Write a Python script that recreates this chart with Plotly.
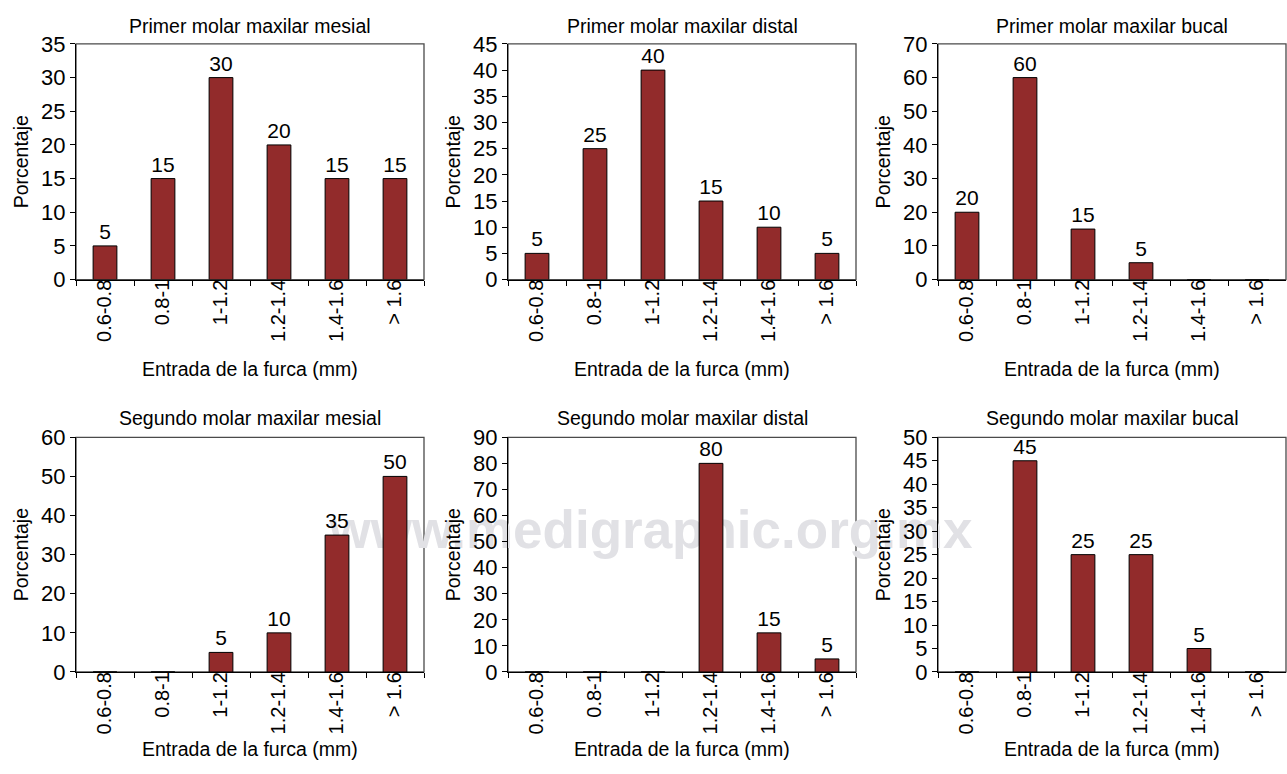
import plotly.graph_objects as go

# Furcation entrance width classes (mm)
categories = ["0.6-0.8", "0.8-1", "1-1.2", "1.2-1.4", "1.4-1.6", "> 1.6"]

# Percentage of teeth per class, one list per panel
primer_mesial = [5, 15, 30, 20, 15, 15]
primer_distal = [5, 25, 40, 15, 10, 5]
primer_bucal = [20, 60, 15, 5, 0, 0]
segundo_mesial = [0, 0, 5, 10, 35, 50]
segundo_distal = [0, 0, 0, 80, 15, 5]
segundo_bucal = [0, 45, 25, 25, 5, 0]

titles = [
    "Primer molar maxilar mesial",
    "Primer molar maxilar distal",
    "Primer molar maxilar bucal",
    "Segundo molar maxilar mesial",
    "Segundo molar maxilar distal",
    "Segundo molar maxilar bucal",
]
series = [primer_mesial, primer_distal, primer_bucal,
          segundo_mesial, segundo_distal, segundo_bucal]
y_max = [35, 45, 70, 60, 90, 50]
y_step = [5, 5, 10, 10, 10, 5]
x_title = "Entrada de la furca (mm)"
y_title = "Porcentaje"

W, H = 1287, 774
FONT = "Liberation Sans, Arial, Helvetica, sans-serif"
BAR = "#922b2b"

# panel frames in pixels (left, right) and (top, bottom)
cols_px = [(76, 424), (508, 856), (938, 1286)]
rows_px = [(33, 276.5), (439.5, 682)]
title_y_px = [14, 420]
xtitle_y_px = [368.5, 762]

fig = go.Figure()
layout = dict(
    width=W, height=H,
    margin=dict(l=0, r=0, t=0, b=0),
    paper_bgcolor="white", plot_bgcolor="rgba(0,0,0,0)",
    showlegend=False,
    bargap=0.59,
    font=dict(family=FONT, size=19.5, color="black"),
)
annotations = []
shapes = []

for i, (title, vals) in enumerate(zip(titles, series)):
    r, c = divmod(i, 3)
    n = i + 1
    xa = "x" if n == 1 else f"x{n}"
    ya = "y" if n == 1 else f"y{n}"
    x0, x1 = cols_px[c]
    t, b = rows_px[r]
    xd = [x0 / W, x1 / W]
    yd = [1 - b / H, 1 - t / H]

    fig.add_trace(go.Bar(
        x=categories, y=vals, xaxis=xa, yaxis=ya,
        marker=dict(color=BAR, line=dict(color="black", width=1)),
        text=[str(v) if v > 0 else "" for v in vals],
        textposition="outside",
        textfont=dict(family=FONT, size=21, color="black"),
        constraintext="none", cliponaxis=False,
        hoverinfo="x+y",
    ))

    layout["xaxis" if n == 1 else f"xaxis{n}"] = dict(
        domain=xd, anchor=ya, type="category",
        showline=True, linecolor="black", linewidth=1.3,
        ticks="outside", tickson="boundaries", ticklen=5,
        tickcolor="black", tickwidth=1.3,
        tickangle=-90, tickfont=dict(size=20),
        ticklabelstandoff=-9,
        showgrid=False, zeroline=False,
    )
    layout["yaxis" if n == 1 else f"yaxis{n}"] = dict(
        domain=yd, anchor=xa,
        range=[0, y_max[i]], dtick=y_step[i], tick0=0,
        showline=True, linecolor="black", linewidth=1.3,
        ticks="outside", ticklen=5, tickcolor="black", tickwidth=1.3,
        tickfont=dict(size=22),
        showgrid=False, zeroline=False,
        title=dict(text=y_title, font=dict(size=19.5), standoff=7),
    )

    # top and right border of the panel
    shapes.append(dict(
        type="rect", xref=f"{xa} domain", yref=f"{ya} domain",
        x0=0, x1=1, y0=0, y1=1, layer="below",
        line=dict(color="#4a4a4a", width=1.3), fillcolor="rgba(0,0,0,0)",
    ))

    # panel heading
    annotations.append(dict(
        text=title, xref="paper", yref="paper",
        x=(x0 + x1) / 2 / W, y=1 - title_y_px[r] / H,
        xanchor="center", yanchor="middle", showarrow=False,
        font=dict(size=19.5, family=FONT, color="black"),
    ))
    # x axis title
    annotations.append(dict(
        text=x_title, xref="paper", yref="paper",
        x=(x0 + x1) / 2 / W, y=1 - xtitle_y_px[r] / H,
        xanchor="center", yanchor="middle", showarrow=False,
        font=dict(size=19.5, family=FONT, color="black"),
    ))

# publisher watermark, kept underneath the bars
shapes.append(dict(
    type="rect", xref="paper", yref="paper",
    x0=337 / W, x1=965 / W, y0=1 - 561 / H, y1=1 - 499 / H,
    layer="below", line=dict(width=0), fillcolor="rgba(0,0,0,0)",
    label=dict(text="<b>www.medigraphic.org.mx</b>",
               textposition="middle center",
               font=dict(family="Liberation Sans, Arial",
                         size=53, color="#e1e1e5")),
))

layout["annotations"] = annotations
layout["shapes"] = shapes
fig.update_layout(**layout)

fig.write_html("out.html")
